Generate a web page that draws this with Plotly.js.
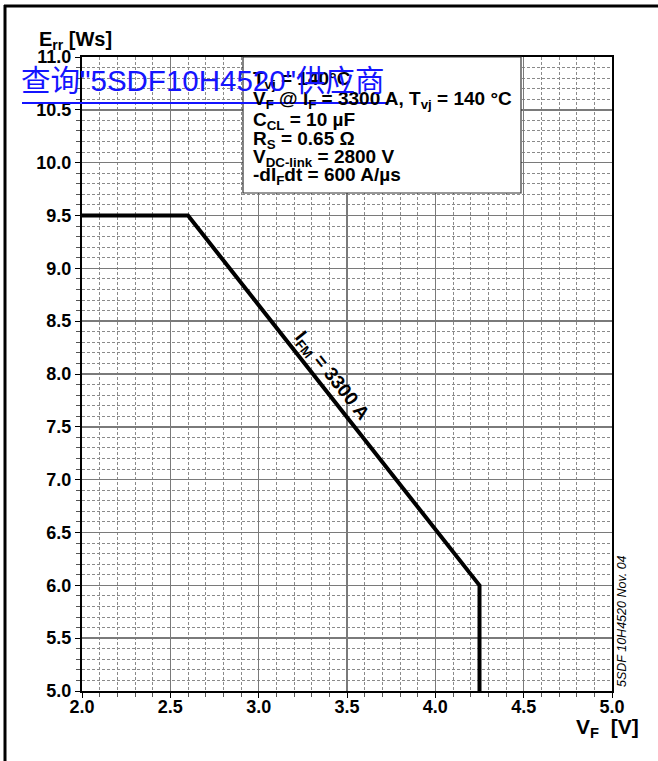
<!DOCTYPE html>
<html>
<head>
<meta charset="utf-8">
<script src="https://cdn.plot.ly/plotly-3.0.1.min.js"></script>
<style>html,body{margin:0;padding:0;background:#fff;}#chart{width:658px;height:761px;}</style>
</head>
<body>
<div id="chart"></div>
<script>
// Curve data: E_rr vs V_F for I_FM = 3300 A
const vfValues = [2.0, 2.6, 4.25, 4.25];
const errValues = [9.5, 9.5, 6.0, 5.0];
const curveLabel = 'I<sub>FM</sub> = 3300 A';
const xTickVals = [2.0, 2.5, 3.0, 3.5, 4.0, 4.5, 5.0];
const yTickVals = [5.0, 5.5, 6.0, 6.5, 7.0, 7.5, 8.0, 8.5, 9.0, 9.5, 10.0, 10.5, 11.0];
const conditionLines = [
  'T<sub>vj</sub> = 140°C',
  'V<sub>F</sub> @ I<sub>F</sub> = 3300 A, T<sub>vj</sub> = 140 °C',
  'C<sub>CL</sub> = 10 µF',
  'R<sub>S</sub> = 0.65 Ω',
  'V<sub>DC-link</sub> = 2800 V',
  '-dI<sub>F</sub>dt = 600 A/µs'
];
const watermark = '查询"5SDF10H4520"供应商';
const docId = '5SDF 10H4520 Nov. 04';

const FONT = 'Liberation Sans, Arial, sans-serif';
const W = 658, H = 761, ML = 82, MR = 46, MT = 57, MB = 70;
const PW = W - ML - MR, PH = H - MT - MB;
const px = v => (v - ML) / PW;          // pixel x -> paper x
const py = v => (H - MB - v) / PH;      // pixel y -> paper y

const trace = {
  x: vfValues, y: errValues, type: 'scatter', mode: 'lines',
  line: {color: '#000', width: 4}, hoverinfo: 'skip', showlegend: false
};

const axisCommon = {
  showline: true, mirror: true, linecolor: '#000', linewidth: 2,
  showgrid: true, gridcolor: '#7a7a7a', gridwidth: 1.5,
  zeroline: false, ticks: 'outside', ticklen: 5, tickcolor: '#000', tickwidth: 1,
  tickformat: '.1f', tickmode: 'array',
  tickfont: {family: FONT, size: 18, color: '#000', weight: 'bold'},
  minor: {dtick: 0.1, showgrid: true, gridcolor: '#8a8a8a', gridwidth: 1, griddash: '3px,2px',
          ticks: 'outside', ticklen: 4, tickcolor: '#555'}
};

// top edge (px) of each text line in the conditions box
const boxLineTop = [66, 85.5, 107, 125.5, 143.5, 161.5];
const boxAnnots = conditionLines.map((t, i) => ({
  xref: 'paper', yref: 'paper', x: px(251), y: py(boxLineTop[i]), xanchor: 'left', yanchor: 'top',
  align: 'left', showarrow: false, text: t,
  font: {family: FONT, size: 19, color: '#000', weight: 'bold'}
}));

const layout = {
  width: W, height: H,
  margin: {l: ML, r: MR, t: MT, b: MB},
  paper_bgcolor: '#fff', plot_bgcolor: '#fff',
  font: {family: FONT, color: '#000'},
  xaxis: Object.assign({}, axisCommon, {range: [2.0, 5.0], tickvals: xTickVals, ticklabelstandoff: -7}),
  yaxis: Object.assign({}, axisCommon, {range: [5.0, 11.0], tickvals: yTickVals}),
  shapes: [
    {type: 'rect', xref: 'paper', yref: 'paper', x0: px(243), x1: px(521), y0: py(193), y1: 1.0,
     fillcolor: '#fff', line: {color: '#333', width: 1.2}, layer: 'above'},
    {type: 'line', xref: 'paper', yref: 'paper', x0: px(4), x1: px(660), y0: py(6), y1: py(6),
     line: {color: '#000', width: 3}},
    {type: 'line', xref: 'paper', yref: 'paper', x0: px(5), x1: px(5), y0: py(765), y1: py(5),
     line: {color: '#000', width: 3}},
    {type: 'line', xref: 'paper', yref: 'paper', x0: px(22), x1: px(388), y0: py(103), y1: py(103),
     line: {color: '#1414ff', width: 2}, layer: 'above'}
  ],
  annotations: boxAnnots.concat([
    {xref: 'x', yref: 'y', x: 3.41, y: 7.98, showarrow: false, text: curveLabel, textangle: 51.6,
     font: {family: FONT, size: 19, color: '#000', weight: 'bold'}},
    {xref: 'paper', yref: 'paper', x: px(37), y: py(41), xanchor: 'left', yanchor: 'middle', showarrow: false,
     text: 'E<sub>rr</sub> [Ws]', font: {family: FONT, size: 20, color: '#000', weight: 'bold'}},
    {xref: 'paper', yref: 'paper', x: px(641), y: py(728), xanchor: 'right', yanchor: 'middle', showarrow: false,
     text: 'V<sub>F</sub>  [V]', font: {family: FONT, size: 21, color: '#000', weight: 'bold'}},
    {xref: 'paper', yref: 'paper', x: px(622), y: py(621), xanchor: 'center', yanchor: 'middle', showarrow: false,
     textangle: -90, text: '<i>' + docId + '</i>', font: {family: FONT, size: 12.5, color: '#000'}},
    {xref: 'paper', yref: 'paper', x: px(19), y: py(80), xanchor: 'left', yanchor: 'middle', showarrow: false,
     text: watermark, font: {family: 'Liberation Sans, Noto Sans CJK SC, sans-serif', size: 29.5, color: '#1414ff'}}
  ])
};

Plotly.newPlot('chart', [trace], layout, {displayModeBar: false, staticPlot: true});
</script>
</body>
</html>
